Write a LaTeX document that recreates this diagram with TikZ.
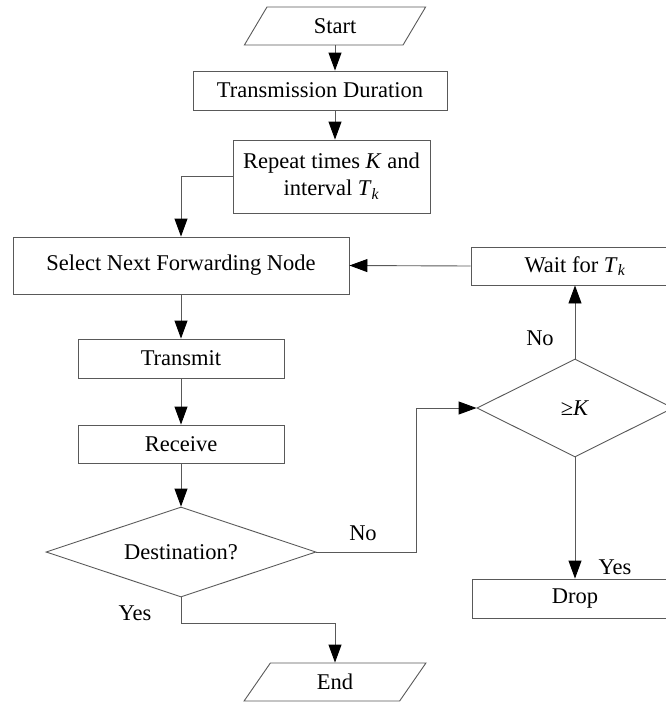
\documentclass[tikz,border=0pt]{standalone}
\usepackage{fontspec}
\setmainfont{Liberation Serif}
\usetikzlibrary{shapes.geometric,arrows.meta}

\tikzset{
  box/.style={draw=black!65,line width=0.9pt,rectangle,inner sep=0pt,
      align=center,font=\fontsize{22.5}{27}\selectfont},
  io/.style={draw=black!65,line width=0.9pt,trapezium,trapezium left angle=65,
      trapezium right angle=115,trapezium stretches=true,inner sep=0pt,
      minimum width=182pt,minimum height=38pt,font=\fontsize{22.5}{27}\selectfont},
  test/.style={draw=black!65,line width=0.9pt,diamond,aspect=3,inner sep=0pt,
      font=\fontsize{22.5}{27}\selectfont},
  flow/.style={draw=black!65,line width=0.9pt,-{Triangle[length=18pt,width=13pt,color=black]}},
  lbl/.style={font=\fontsize{22.5}{27}\selectfont}
}
\newcommand{\Tk}{\textit{T}\textsubscript{\textit{k}}}
\def\xmain {335}

\begin{document}
\begin{tikzpicture}[x=1pt,y=-1pt]
        \useasboundingbox (0,0) rectangle (666,702);
        \node[io] (start) at (\xmain,26) {Start};
        \node[box,minimum width=254pt,minimum height=39pt] (dur) at (320,90.5) {Transmission Duration};
        \node[box,minimum width=197pt,minimum height=73pt] (rep) at (331.5,176.5) {Repeat times \textit{K} and\\interval \Tk};
        \node[box,minimum width=336pt,minimum height=57pt] (sel) at (181,265.5) {Select Next Forwarding Node};
        \node[box,minimum width=206pt,minimum height=39pt] (tx) at (181,358.5) {Transmit};
        \node[box,minimum width=206pt,minimum height=38pt] (rx) at (181,444) {Receive};
        \node[test,minimum width=270pt,minimum height=90pt] (dest) at (181,552) {Destination?};
        \node[test,minimum width=196pt,minimum height=98pt] (chk) at (575,408) {≥\textit{K}};
        \node[box,minimum width=208pt,minimum height=38pt] (wait) at (575,266) {Wait for \Tk};
        \node[box,minimum width=206pt,minimum height=39pt] (drop) at (575,598.5) {Drop};
        \node[io] (end) at (\xmain,682) {End};

        \draw[flow] (start.south) -- (start.south |- dur.north);
        \draw[flow] (start.south |- dur.south) -- (start.south |- rep.north);
        \draw[flow] (rep.west) -| (sel.north);
        \draw[flow] (wait.west) -- (sel.east);
        \foreach \a/\b in {sel/tx,tx/rx,rx/dest} {
            \draw[flow] (\a.south) -- (\b.north);
          }
        \draw[flow] (dest.east) -- ++(100,0) coordinate (turn) |- (chk.west);
        \draw[flow] (chk.north) -- (wait.south);
        \draw[flow] (chk.south) -- (drop.north);
        \draw[flow] (dest.south) -- ++(0,26) coordinate (bend) -| (end.north);

        \node[lbl] (no1) at (363,533) {No};
        \node[lbl] (no2) at (540,338) {No};
        \node[lbl] (yes1) at (615,567) {Yes};
        \node[lbl] (yes2) at (135,613) {Yes};
      \end{tikzpicture}
\end{document}
